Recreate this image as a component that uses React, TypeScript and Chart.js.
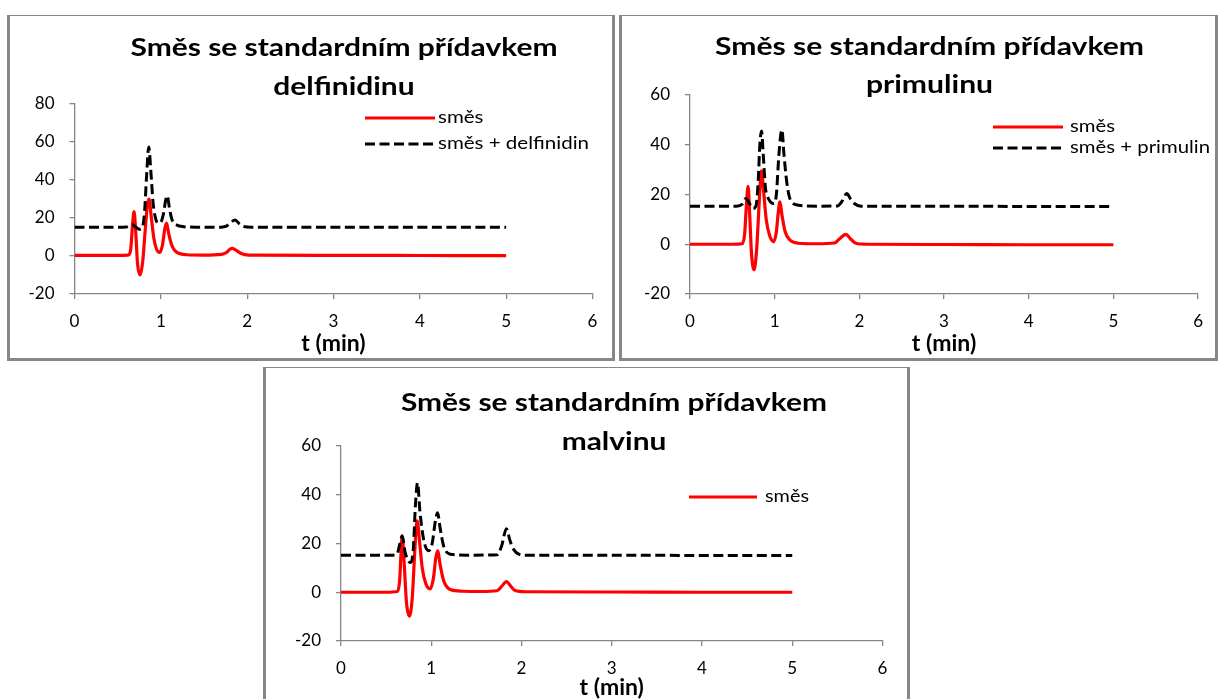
import React, { useEffect, useRef } from 'react';
import { Chart, registerables } from 'chart.js';

Chart.register(...registerables);

// ---------- data (t in min, signal) ----------
const xTicksMin = 0;
const xTicksMax = 6;

// Panel 1: delfinidin
const delfMixT = [0, 0.5, 0.62, 0.65, 0.67, 0.69, 0.71, 0.73, 0.76, 0.79, 0.82, 0.845, 0.864, 0.89, 0.92, 0.95, 0.988, 1.02, 1.045, 1.066, 1.09, 1.12, 1.143, 1.18, 1.22, 1.3, 1.5, 1.7, 1.76, 1.8, 1.83, 1.87, 1.92, 1.97, 2.1, 3, 4, 5];
const delfMixY = [0.3, 0.3, 0.4, 3, 15, 23.3, 12, -4, -10, -3, 14, 27, 29.8, 20, 9, 3.5, 1.8, 6, 14, 17.2, 12, 6.5, 4, 2, 1.2, 0.6, 0.4, 0.8, 1.8, 3.5, 4, 3, 1.5, 0.7, 0.4, 0.3, 0.2, 0.1];
const delfAddT = [0, 0.5, 0.6, 0.64, 0.67, 0.71, 0.75, 0.78, 0.81, 0.835, 0.86, 0.885, 0.91, 0.935, 0.965, 0.995, 1.03, 1.055, 1.074, 1.1, 1.124, 1.15, 1.18, 1.25, 1.4, 1.7, 1.76, 1.81, 1.86, 1.91, 1.96, 2.05, 3, 4, 5];
const delfAddY = [15.1, 15.1, 15.2, 15.8, 16.3, 15.2, 14, 14.5, 22, 42, 57.2, 44, 28, 20.5, 17.2, 17.5, 22, 29, 31.6, 25, 19.8, 17.2, 16.3, 15.4, 15.1, 15.1, 15.6, 17.5, 18.9, 16.8, 15.4, 15.1, 15.1, 15, 15];

// Panel 2: primulin
const primMixT = [0, 0.5, 0.615, 0.645, 0.665, 0.686, 0.705, 0.725, 0.756, 0.785, 0.81, 0.83, 0.845, 0.87, 0.9, 0.94, 0.988, 1.02, 1.04, 1.062, 1.085, 1.124, 1.18, 1.28, 1.5, 1.705, 1.76, 1.84, 1.9, 1.96, 2.1, 3, 4, 5];
const primMixY = [0, 0, 0.2, 4, 15, 23.3, 12, -3, -10.3, -3, 12, 25, 29.5, 21, 10, 3.5, 1, 5, 12, 17, 12, 5, 1.7, 0.4, 0.2, 0.5, 2, 4, 2, 0.4, 0, -0.1, -0.2, -0.2];
const primAddT = [0, 0.55, 0.62, 0.66, 0.7, 0.744, 0.78, 0.805, 0.825, 0.845, 0.865, 0.89, 0.91, 0.95, 0.99, 1.02, 1.05, 1.085, 1.11, 1.14, 1.17, 1.2, 1.28, 1.5, 1.74, 1.8, 1.85, 1.9, 1.94, 2.02, 3, 4, 5];
const primAddY = [15.3, 15.3, 16.2, 18.4, 16.5, 14.4, 15.5, 25, 40, 45.5, 36, 23, 19.7, 17, 16.4, 20, 36, 46, 36, 25.7, 19.5, 17, 15.7, 15.3, 15.4, 17.5, 20.4, 18, 16.4, 15.3, 15.3, 15.2, 15.2];

// Panel 3: malvin
const malvMixT = [0, 0.5, 0.625, 0.65, 0.665, 0.678, 0.7, 0.725, 0.759, 0.79, 0.815, 0.835, 0.844, 0.87, 0.9, 0.94, 0.989, 1.025, 1.05, 1.07, 1.1, 1.137, 1.21, 1.35, 1.55, 1.73, 1.78, 1.833, 1.88, 1.93, 2.05, 3, 4, 5];
const malvMixY = [0, 0, 0.3, 5, 16, 23.1, 12, -4, -9.8, -2, 15, 27.5, 29.3, 21, 10, 3.5, 1.4, 6, 14, 17, 11, 4.8, 1.1, 0.4, 0.3, 0.6, 2.4, 4.4, 2.5, 0.7, 0.2, 0.1, 0, 0];
const malvAddT = [0, 0.55, 0.62, 0.65, 0.678, 0.71, 0.767, 0.8, 0.825, 0.848, 0.875, 0.915, 0.97, 1.01, 1.045, 1.07, 1.1, 1.137, 1.21, 1.4, 1.73, 1.78, 1.833, 1.87, 1.9, 1.97, 2.05, 3, 4, 5];
const malvAddY = [15.2, 15.2, 15.6, 19.5, 23.1, 16.5, 12.2, 17, 36, 44.9, 33, 21.8, 17, 20, 29, 32.6, 26, 19, 15.6, 15.2, 15.4, 19, 26.1, 21.5, 18.4, 15.6, 15.2, 15.2, 15.1, 15.1];

const titleLine1 = 'Směs se standardním přídavkem';
const mixLabel = 'směs';

// ---------- plugin drawing title + legend ----------
const panelText = {
  id: 'panelText',
  afterDraw(chart: any, _args: any, opts: any) {
    const ctx = chart.ctx as CanvasRenderingContext2D;
    ctx.save();
    ctx.fillStyle = '#000';
    ctx.textBaseline = 'middle';
    // title
    ctx.font = `bold ${opts.titleSize}px Lato`;
    ctx.textAlign = 'center';
    const tw = ctx.measureText(opts.title[0]).width;
    const tsx = opts.titleWidth / tw;
    opts.title.forEach((line: string, i: number) => {
      ctx.save();
      ctx.translate(opts.titleX, opts.titleY[i]);
      ctx.scale(tsx, 1);
      ctx.fillText(line, 0, 0);
      ctx.restore();
    });
    // legend
    const items = chart.data.datasets.filter((d: any) => d.inLegend).sort((a: any, b: any) => a.legendRank - b.legendRank);
    ctx.font = `${opts.legendSize}px Lato`;
    ctx.textAlign = 'left';
    let maxW = 0;
    items.forEach((d: any) => { maxW = Math.max(maxW, ctx.measureText(d.label).width); });
    const lsx = opts.legendTextWidth / maxW;
    items.forEach((d: any, i: number) => {
      const y = opts.legendY[i];
      ctx.save();
      ctx.strokeStyle = d.borderColor;
      ctx.lineWidth = d.borderWidth;
      ctx.setLineDash(d.borderDash || []);
      ctx.beginPath();
      ctx.moveTo(opts.legendX0, y);
      ctx.lineTo(opts.legendX1, y);
      ctx.stroke();
      ctx.restore();
      ctx.save();
      ctx.translate(opts.legendTextX, y);
      ctx.scale(lsx, 1);
      ctx.fillText(d.label, 0, 0);
      ctx.restore();
    });
    ctx.restore();
  },
};

type PanelCfg = {
  left: number; top: number; w: number; h: number;
  mixT: number[]; mixY: number[]; addT: number[]; addY: number[];
  addLabel: string; addInLegend: boolean;
  yMin: number; yMax: number;
  pad: { left: number; right: number; top: number; bottom: number };
  yWidth: number; xHeight: number;
  titleLine2: string; titleX: number; titleY: number[]; titleWidth: number;
  legendX0: number; legendX1: number; legendTextX: number; legendY: number[]; legendTextWidth: number;
};

const GRAY = '#868686';

function Panel({ cfg }: { cfg: PanelCfg }) {
  const ref = useRef<HTMLCanvasElement | null>(null);
  useEffect(() => {
    if (!ref.current) return;
    const toPts = (t: number[], y: number[]) => t.map((x, i) => ({ x, y: y[i] }));
    const chart = new Chart(ref.current, {
      type: 'line',
      data: {
        datasets: [
          {
            label: cfg.addLabel,
            data: toPts(cfg.addT, cfg.addY),
            borderColor: '#000000',
            borderWidth: 3,
            borderDash: [10, 4.5],
            pointRadius: 0,
            cubicInterpolationMode: 'monotone',
            fill: false,
            inLegend: cfg.addInLegend,
            legendRank: 2,
          } as any,
          {
            label: mixLabel,
            data: toPts(cfg.mixT, cfg.mixY),
            borderColor: '#ff0000',
            borderWidth: 3.2,
            pointRadius: 0,
            cubicInterpolationMode: 'monotone',
            fill: false,
            inLegend: true,
            legendRank: 1,
          } as any,
        ],
      },
      options: {
        responsive: false,
        animation: false,
        events: [],
        layout: { padding: cfg.pad },
        scales: {
          x: {
            type: 'linear',
            min: xTicksMin,
            max: xTicksMax,
            ticks: { stepSize: 1, color: '#000', font: { family: 'Lato', size: 17 }, padding: 12 },
            grid: { drawOnChartArea: false, drawTicks: true, tickLength: 5, color: GRAY, lineWidth: 1.3 },
            border: { color: GRAY, width: 1.3 },
            title: { display: true, text: 't (min)', color: '#000', font: { family: 'Lato', size: 23, weight: 'bold' }, padding: { top: 0, bottom: 0 } },
            afterFit: (s: any) => { s.height = cfg.xHeight; },
          },
          y: {
            type: 'linear',
            min: cfg.yMin,
            max: cfg.yMax,
            ticks: { stepSize: 20, color: '#000', font: { family: 'Lato', size: 17 }, padding: 15 },
            grid: { drawOnChartArea: false, drawTicks: true, tickLength: 5, color: GRAY, lineWidth: 1.3 },
            border: { color: GRAY, width: 1.3 },
            afterFit: (s: any) => { s.width = cfg.yWidth; },
          },
        },
        plugins: {
          legend: { display: false },
          tooltip: { enabled: false },
          title: { display: false },
          panelText: {
            title: [titleLine1, cfg.titleLine2],
            titleSize: 24,
            titleX: cfg.titleX,
            titleY: cfg.titleY,
            titleWidth: cfg.titleWidth,
            legendSize: 17,
            legendX0: cfg.legendX0,
            legendX1: cfg.legendX1,
            legendTextX: cfg.legendTextX,
            legendY: cfg.legendY,
            legendTextWidth: cfg.legendTextWidth,
          },
        } as any,
      },
      plugins: [panelText as any],
    });
    return () => chart.destroy();
  }, [cfg]);

  return (
    <div
      style={{
        position: 'fixed',
        left: cfg.left,
        top: cfg.top,
        width: cfg.w,
        height: cfg.h,
        borderStyle: 'solid',
        borderColor: '#878787',
        borderWidth: '1px 3px 3px 3px',
        background: '#fff',
      }}
    >
      <canvas ref={ref} width={cfg.w} height={cfg.h} style={{ display: 'block' }} />
    </div>
  );
}

const panels: PanelCfg[] = [
  {
    left: 7, top: 15, w: 602, h: 342,
    mixT: delfMixT, mixY: delfMixY, addT: delfAddT, addY: delfAddY,
    addLabel: 'směs + delfinidin', addInLegend: true,
    yMin: -20, yMax: 80,
    pad: { left: 0, right: 19.5, top: 87.5, bottom: 1 },
    yWidth: 64.5, xHeight: 63,
    titleLine2: 'delfinidinu', titleX: 334, titleY: [32, 71], titleWidth: 427,
    legendX0: 355, legendX1: 425, legendTextX: 428, legendY: [102, 128], legendTextWidth: 151,
  },
  {
    left: 619, top: 15, w: 593, h: 342,
    mixT: primMixT, mixY: primMixY, addT: primAddT, addY: primAddY,
    addLabel: 'směs + primulin', addInLegend: true,
    yMin: -20, yMax: 60,
    pad: { left: 0, right: 9, top: 79, bottom: 1 },
    yWidth: 68, xHeight: 63,
    titleLine2: 'primulinu', titleX: 307.5, titleY: [31, 69], titleWidth: 429,
    legendX0: 371, legendX1: 441, legendTextX: 448, legendY: [111, 132], legendTextWidth: 140,
  },
  {
    left: 263, top: 367, w: 641, h: 340,
    mixT: malvMixT, mixY: malvMixY, addT: malvAddT, addY: malvAddY,
    addLabel: 'směs + malvin', addInLegend: false,
    yMin: -20, yMax: 60,
    pad: { left: 0, right: 24.5, top: 78, bottom: 7 },
    yWidth: 75, xHeight: 60,
    titleLine2: 'malvinu', titleX: 348, titleY: [35, 74], titleWidth: 426,
    legendX0: 423, legendX1: 491, legendTextX: 499, legendY: [129], legendTextWidth: 44,
  },
];

export default function App() {
  return (
    <div>
      {panels.map((p, i) => (
        <Panel key={i} cfg={p} />
      ))}
    </div>
  );
}
